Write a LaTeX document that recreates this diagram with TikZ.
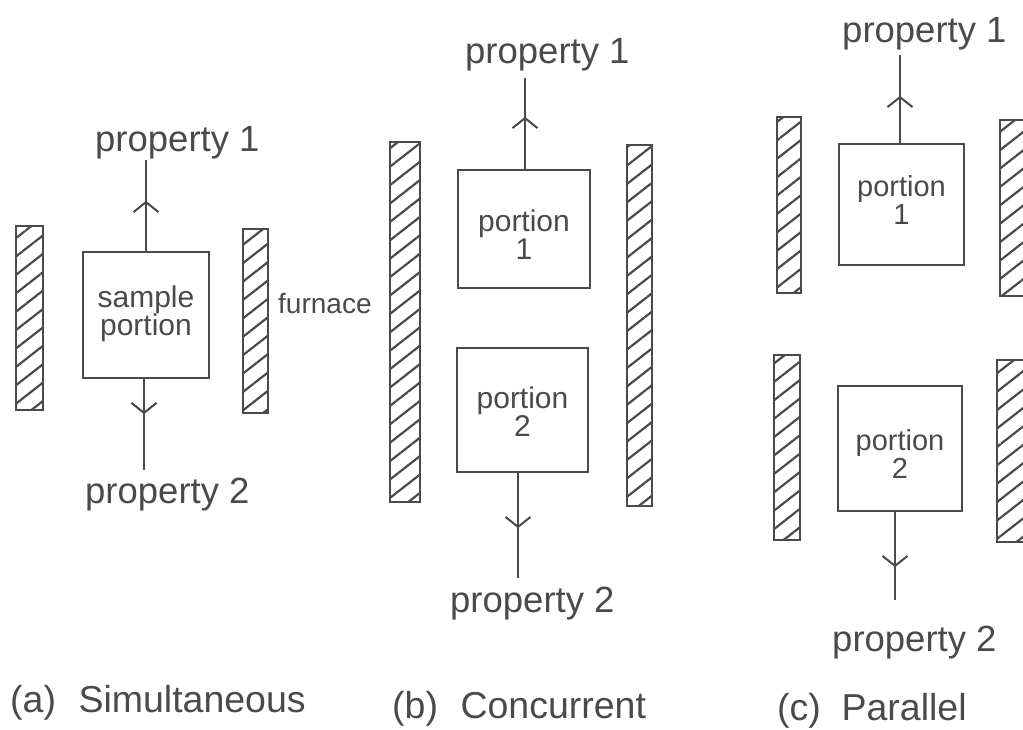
\documentclass[tikz,border=0pt]{standalone}
\usepackage{fontspec}
\setmainfont{Liberation Sans}
\usetikzlibrary{arrows.meta,decorations.markings,patterns.meta}
\definecolor{ink}{HTML}{4A4A4A}
\begin{document}
\begin{tikzpicture}[x=1pt,y=-1pt,
  bar/.style={draw=ink, line width=2.2pt, inner sep=0pt, outer sep=0pt,
    pattern={Lines[angle=38,distance=14.5pt,line width=2.2pt]}, pattern color=ink},
  box/.style={draw=ink, line width=2.4pt, inner sep=0pt},
  boxtext/.style={text=ink, align=center, inner sep=0pt,
    font=\fontsize{30}{28}\selectfont},
  prop/.style={text=ink, anchor=base west, inner sep=0pt,
    font=\fontsize{36.5}{40}\selectfont},
  caption/.style={text=ink, anchor=base west, inner sep=0pt,
    font=\fontsize{37.5}{40}\selectfont},
  flow/.style={draw=ink, line width=2pt},
  chevron/.style={postaction={decorate}, decoration={markings,
    mark=at position #1 with {\arrow{Straight Barb[length=10pt,width=25pt,line width=2pt]}}}}]
\useasboundingbox (0,0) rectangle (1023,729);

% ---------- (a) simultaneous ----------
\node[bar, minimum width=27, minimum height=184] (aL) at (29.5,318) {};
\node[bar, minimum width=25, minimum height=184] (aR) at (255.5,321) {};
\node[box, minimum width=126, minimum height=126] (sa) at (146,315) {};
\node[boxtext] (saT) at ([yshift=1pt]sa.center) {sample\\portion};
\coordinate (aTop) at (146,160);
\coordinate (aBot) at (144,470);
\draw[flow, chevron=50pt] (sa.north) -- (aTop);
\draw[flow, chevron=35pt] (sa.south -| aBot) -- (aBot);
\node[prop] (aP1) at (95,151) {property 1};
\node[prop] (aP2) at (85,503) {property 2};
\node[text=ink, anchor=base west, inner sep=0pt, font=\fontsize{28}{30}\selectfont]
  (furn) at (278,313) {furnace};

% ---------- (b) concurrent ----------
\node[bar, minimum width=30, minimum height=360] (bL) at (405,322) {};
\node[bar, minimum width=25, minimum height=361] (bR) at (639.5,325.5) {};
\node[box, minimum width=132, minimum height=118] (b1) at (524,229) {};
\node[box, minimum width=131, minimum height=124] (b2) at (522.5,410) {};
\node[boxtext] (b1T) at ([yshift=-6pt]b1.center) {portion\\1};
\node[boxtext] (b2T) at ([yshift=-2pt]b2.center) {portion\\2};
\coordinate (bTop) at (525,78);
\coordinate (bBot) at (518,578);
\draw[flow, chevron=52pt] (b1.north -| bTop) -- (bTop);
\draw[flow, chevron=55pt] (b2.south -| bBot) -- (bBot);
\node[prop] (bP1) at (465,63) {property 1};
\node[prop] (bP2) at (450,612) {property 2};

% ---------- (c) parallel ----------
\node[bar, minimum width=24, minimum height=176] (cTL) at (789,205) {};
\node[bar, minimum width=26, minimum height=176] (cTR) at (1013,208) {};
\node[bar, minimum width=26, minimum height=185] (cBL) at (787,447.5) {};
\node[bar, minimum width=28, minimum height=182] (cBR) at (1011,451) {};
\node[box, minimum width=125, minimum height=121] (c1) at (901.5,204.5) {};
\node[box, minimum width=124, minimum height=125] (c2) at (900,448.5) {};
\node[boxtext, font=\fontsize{29}{28}\selectfont] (c1T) at ([yshift=5pt]c1.center) {portion\\1};
\node[boxtext, font=\fontsize{29}{28}\selectfont] (c2T) at ([yshift=-5pt]c2.center) {portion\\2};
\coordinate (cTop) at (900,55);
\coordinate (cBot) at (895,600);
\draw[flow, chevron=47pt] (c1.north -| cTop) -- (cTop);
\draw[flow, chevron=55pt] (c2.south -| cBot) -- (cBot);
\node[prop] (cP1) at (842,42) {property 1};
\node[prop] (cP2) at (832,651) {property 2};

% ---------- captions ----------
\node[caption] (capA) at (10,712) {(a)\hspace{0.6em}Simultaneous};
\node[caption] (capB) at (392,718) {(b)\hspace{0.6em}Concurrent};
\node[caption] (capC) at (777,720) {(c)\hspace{0.55em}Parallel};
\end{tikzpicture}
\end{document}
